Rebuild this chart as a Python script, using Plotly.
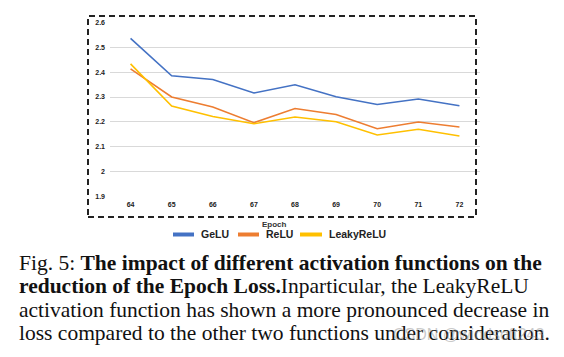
import plotly.graph_objects as go

# ---- data ----
epochs = ["64", "65", "66", "67", "68", "69", "70", "71", "72"]
gelu = [2.535, 2.385, 2.370, 2.316, 2.349, 2.301, 2.270, 2.292, 2.265]
relu = [2.413, 2.300, 2.260, 2.197, 2.254, 2.230, 2.173, 2.200, 2.180]
leaky = [2.433, 2.264, 2.222, 2.193, 2.220, 2.201, 2.148, 2.171, 2.144]
series_names = ["GeLU", "ReLU", "LeakyReLU"]
y_ticks = [1.9, 2.0, 2.1, 2.2, 2.3, 2.4, 2.5, 2.6]
y_tick_labels = ["1.9", "2", "2.1", "2.2", "2.3", "2.4", "2.5", "2.6"]
caption_lines = [
    "Fig. 5: <b>The impact of different activation functions on the</b>",
    "<b>reduction of the Epoch Loss.</b>Inparticular, the LeakyReLU",
    "activation function has shown a more pronounced decrease in",
    "loss compared to the other two functions under consideration.",
]

colors = ["#4472C4", "#ED7D31", "#FFC000"]

W, H = 564, 357
L, R, T, B = 110, 84, 22, 160
PW, PH = W - L - R, H - T - B


def px2x(px):
    return (px - L) / PW


def py2y(py):
    return (H - B - py) / PH


fig = go.Figure()
for name, vals, col in zip(series_names, [gelu, relu, leaky], colors):
    fig.add_trace(go.Scatter(x=epochs, y=vals, mode="lines", name=name,
                             line=dict(color=col, width=1.6), showlegend=False))

tickfont = dict(family="Arial", size=7, color="#222222", weight="bold")
fig.update_layout(
    width=W, height=H, autosize=False,
    margin=dict(l=L, r=R, t=T, b=B, pad=0),
    paper_bgcolor="white", plot_bgcolor="white",
    xaxis=dict(type="category", range=[-0.5, len(epochs) - 0.5], showgrid=False,
               zeroline=False, showline=False,
               tickfont=tickfont, ticks="", ticklabelstandoff=2),
    yaxis=dict(range=[1.8995, 2.6005], tickvals=y_ticks, ticktext=y_tick_labels,
               showgrid=True, gridcolor="#d9d9d9", gridwidth=1, zeroline=False,
               showline=False, tickfont=tickfont, ticks="", ticklabelstandoff=4),
)

shapes = []
annotations = []
# dashed frame
shapes.append(dict(type="rect", xref="paper", yref="paper",
                   x0=px2x(88), x1=px2x(476), y0=py2y(217), y1=py2y(16),
                   line=dict(color="#222222", width=2, dash="6px,4px"),
                   fillcolor="rgba(0,0,0,0)", layer="above"))
# axis title
annotations.append(dict(text="<b>Epoch</b>", xref="paper", yref="paper",
                        x=px2x(274), y=py2y(224), showarrow=False,
                        xanchor="center", yanchor="middle",
                        font=dict(family="Arial", size=8, color="#333333")))
# legend
leg = [(173, 194, 199), (238, 259, 264), (300, 322, 327)]
for (x0, x1, tx), name, col in zip(leg, series_names, colors):
    shapes.append(dict(type="line", xref="paper", yref="paper",
                       x0=px2x(x0), x1=px2x(x1), y0=py2y(234.5), y1=py2y(234.5),
                       line=dict(color=col, width=4)))
    annotations.append(dict(text="<b>" + name + "</b>", xref="paper", yref="paper",
                            x=px2x(tx), y=py2y(234.5), showarrow=False,
                            xanchor="left", yanchor="middle",
                            font=dict(family="Arial", size=10.5, color="#222222")))
# caption
for i, line in enumerate(caption_lines):
    annotations.append(dict(text=line, xref="paper", yref="paper",
                            x=px2x(17), y=py2y(263 + i * 23.3), showarrow=False,
                            xanchor="left", yanchor="middle", align="left",
                            font=dict(family="Liberation Serif", size=21.5, color="#111111")))
# watermark
annotations.append(dict(text="CSDN @windsoft243", xref="paper", yref="paper",
                        x=px2x(547), y=py2y(334), showarrow=False,
                        xanchor="right", yanchor="middle",
                        font=dict(family="Arial", size=16, color="rgba(150,150,150,0.5)")))

fig.update_layout(shapes=shapes, annotations=annotations)
fig.write_html("out.html", config={"displayModeBar": False},
               post_script="document.body.style.margin='0px';document.body.style.overflow='hidden';")
